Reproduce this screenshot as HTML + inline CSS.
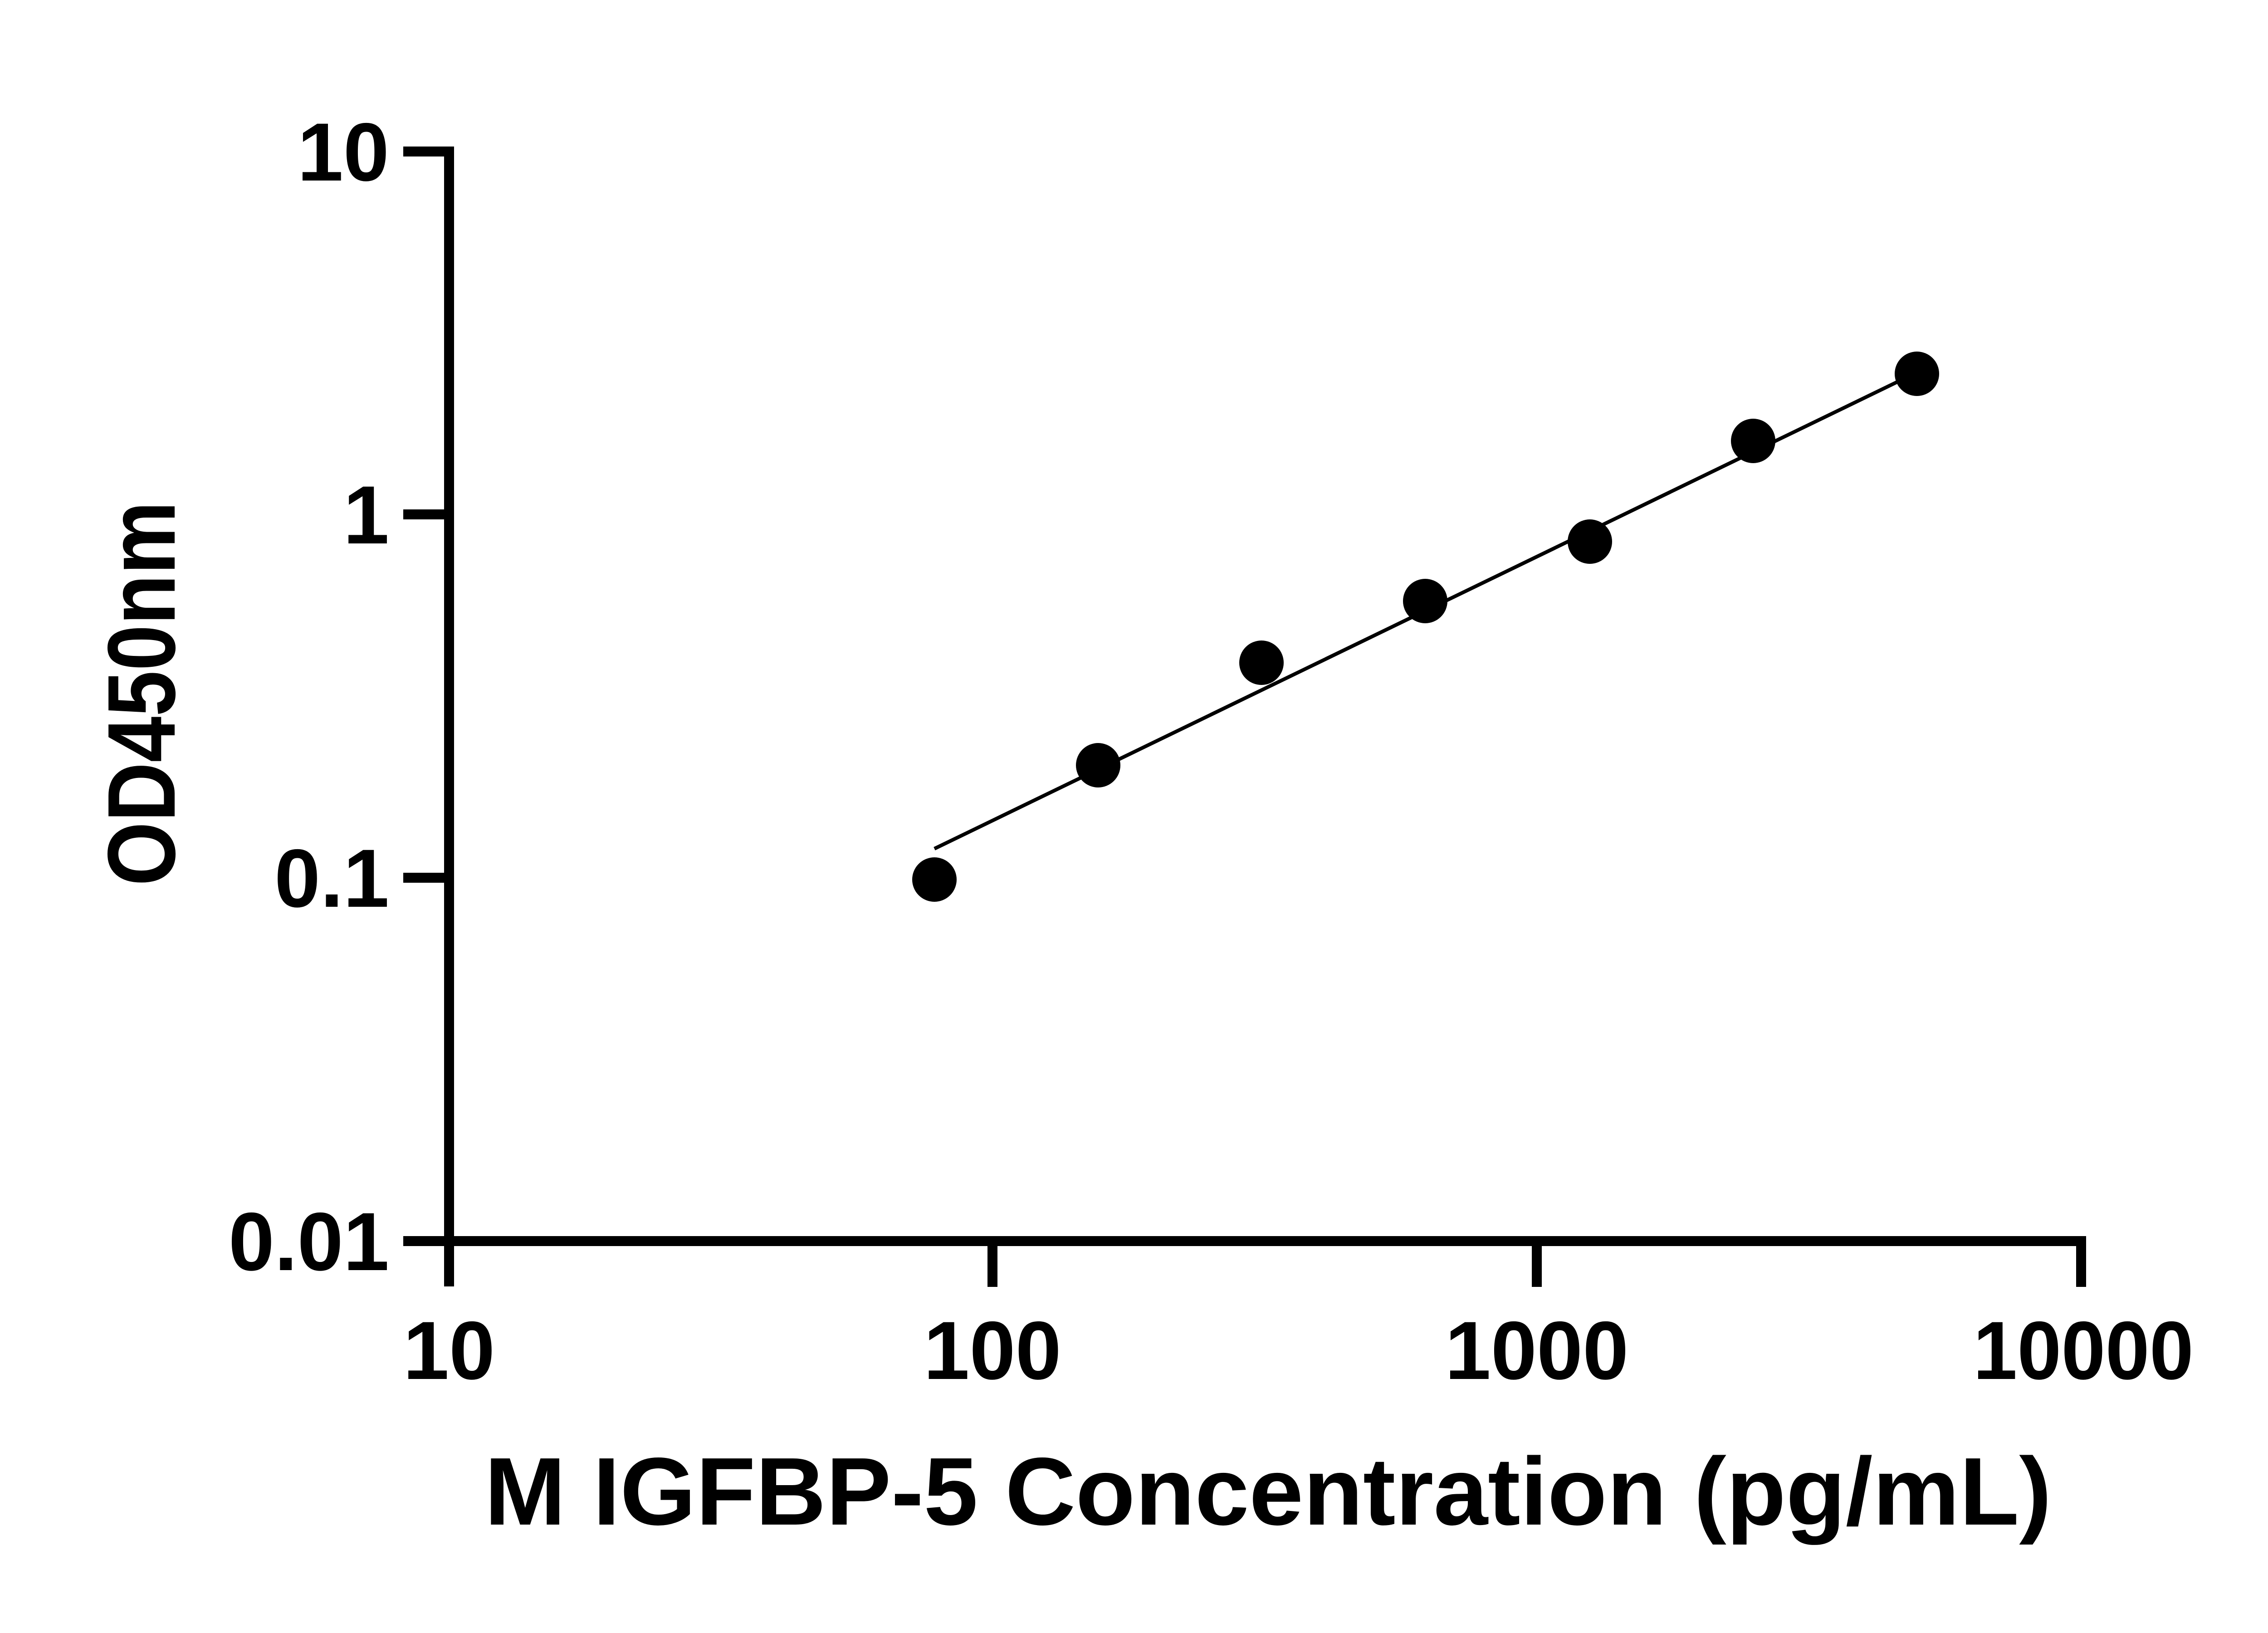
<!DOCTYPE html>
<html><head><meta charset="utf-8"><style>html,body{margin:0;padding:0;background:#fff}svg{display:block}</style></head>
<body>
<svg width="5142" height="3600" viewBox="0 0 5142 3600" xmlns="http://www.w3.org/2000/svg" font-family="Liberation Sans, Arial, sans-serif" font-weight="bold">
<rect width="5142" height="3600" fill="#fff"/>
<g stroke="#000" stroke-width="22" fill="none">
<line x1="990" y1="323" x2="990" y2="2836"/>
<line x1="979" y1="2736" x2="4599" y2="2736"/>
<line x1="889" y1="334" x2="990" y2="334"/>
<line x1="889" y1="1134" x2="990" y2="1134"/>
<line x1="889" y1="1935" x2="990" y2="1935"/>
<line x1="889" y1="2736" x2="990" y2="2736"/>
<line x1="2188" y1="2736" x2="2188" y2="2837"/>
<line x1="3388" y1="2736" x2="3388" y2="2837"/>
<line x1="4588" y1="2736" x2="4588" y2="2837"/>
</g>
<g font-size="182" text-anchor="end">
<text x="858" y="398">10</text>
<text x="858" y="1198">1</text>
<text x="858" y="1999">0.1</text>
<text x="858" y="2800">0.01</text>
</g>
<g font-size="182" text-anchor="middle">
<text x="990" y="3040">10</text>
<text x="2188" y="3040">100</text>
<text x="3388" y="3040">1000</text>
<text x="4593" y="3040" textLength="486" lengthAdjust="spacingAndGlyphs">10000</text>
</g>
<text x="1068" y="3361" font-size="212" textLength="3455" lengthAdjust="spacingAndGlyphs">M IGFBP-5 Concentration (pg/mL)</text>
<text transform="translate(385,1953) rotate(-90)" font-size="212" textLength="848" lengthAdjust="spacingAndGlyphs">OD450nm</text>
<line x1="2060" y1="1871" x2="4226" y2="821" stroke="#000" stroke-width="8"/>
<g fill="#000">
<circle cx="2060" cy="1939" r="49"/>
<circle cx="2421" cy="1687" r="49"/>
<circle cx="2781" cy="1461" r="49"/>
<circle cx="3142" cy="1325" r="49"/>
<circle cx="3505" cy="1194" r="49"/>
<circle cx="3865" cy="972" r="49"/>
<circle cx="4226" cy="824" r="49"/>
</g>
</svg>
</body></html>
